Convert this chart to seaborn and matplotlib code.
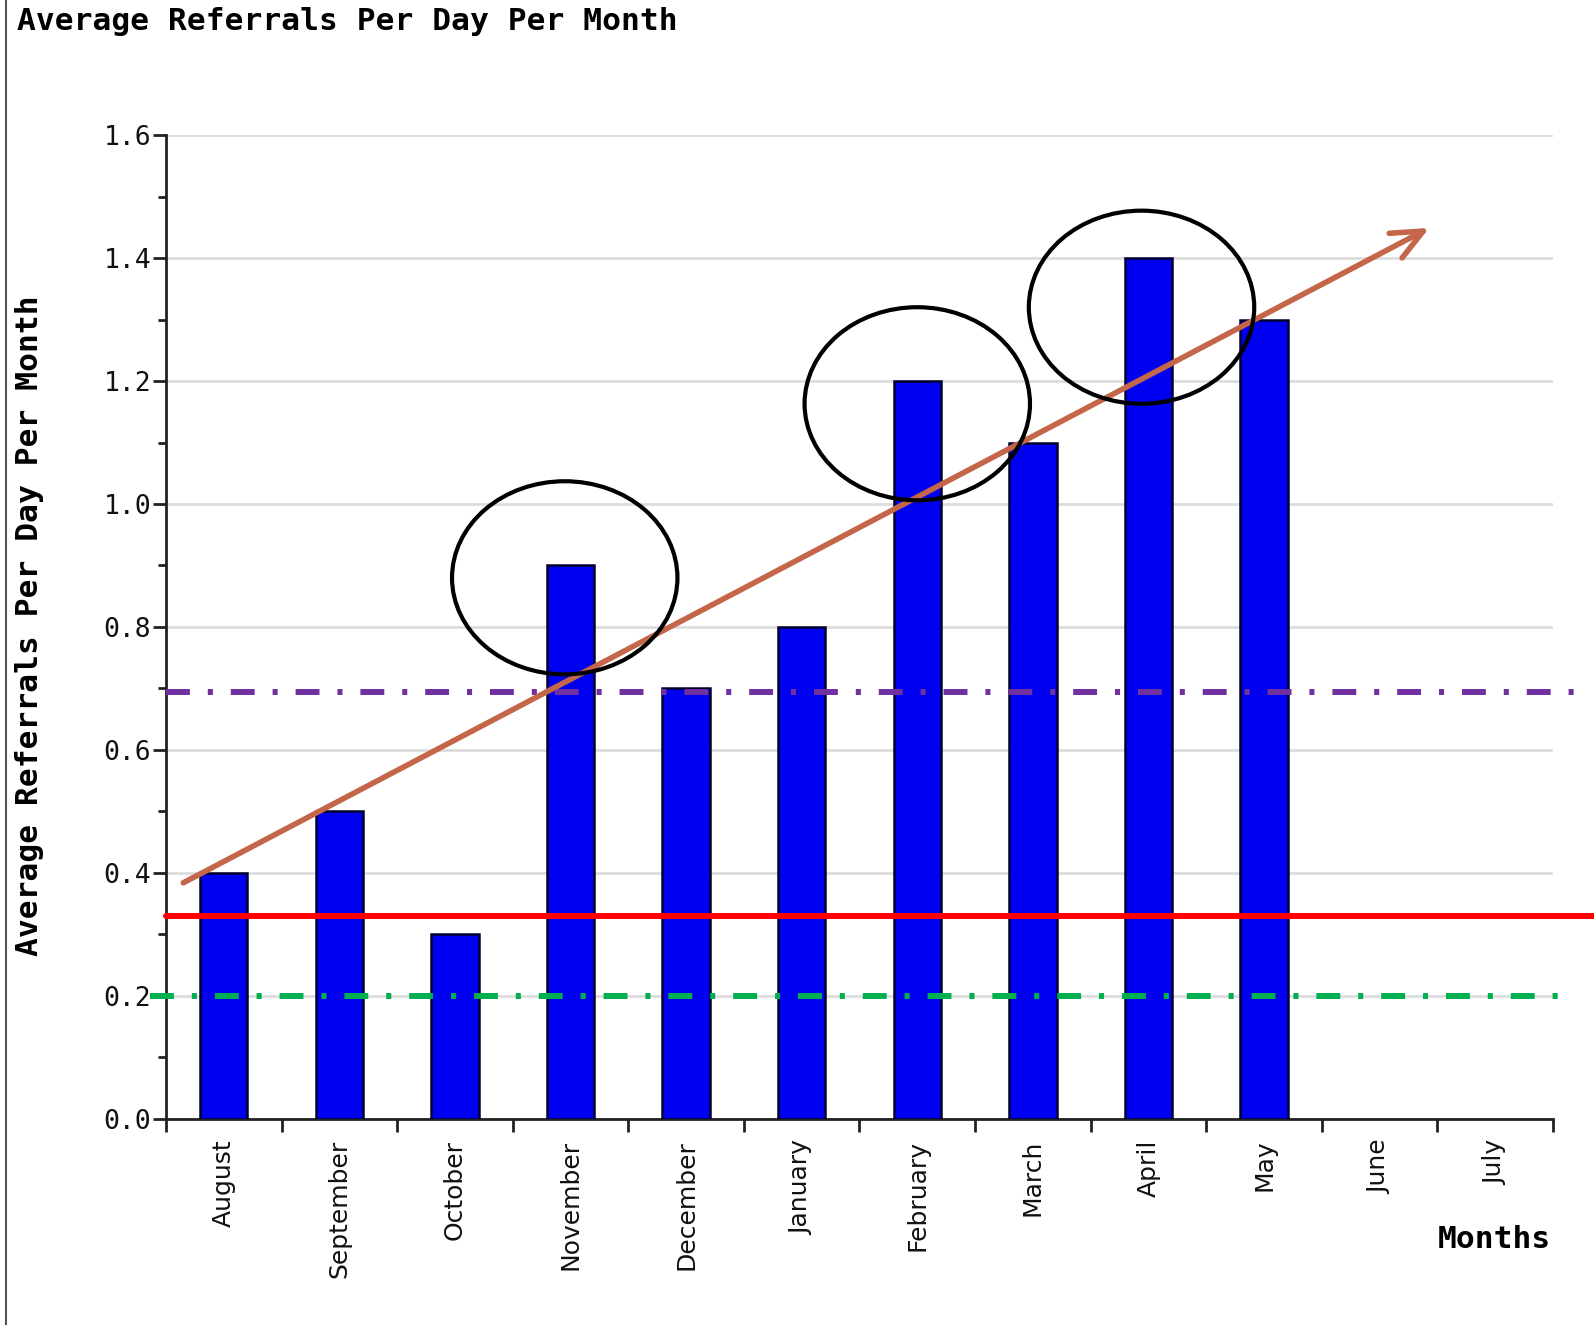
import numpy as np
import pandas as pd
import matplotlib
matplotlib.use('Agg')
import matplotlib.pyplot as plt
import seaborn as sns
from matplotlib.patches import Ellipse
from matplotlib.lines import Line2D

# Data
months = ['August', 'September', 'October', 'November', 'December', 'January',
          'February', 'March', 'April', 'May', 'June', 'July']
referrals = [0.4, 0.5, 0.3, 0.9, 0.7, 0.8, 1.2, 1.1, 1.4, 1.3, np.nan, np.nan]

# reference lines
red_level = 0.33
purple_level = 0.694
green_level = 0.2

# trend arrow (start, end) in data coords
trend_x = [-0.35, 10.43]
trend_y = [0.384, 1.449]

# highlighted months (circles): centre x, centre y
circle_x = [2.95, 6.0, 7.94]
circle_y = [0.88, 1.163, 1.32]

df = pd.DataFrame({'Month': months, 'Referrals': referrals})

sns.set_style('white')
plt.rcParams['font.family'] = ['DejaVu Sans Mono', 'DejaVu Sans']
plt.rcParams['text.color'] = 'black'

fig = plt.figure(figsize=(15.94, 13.25), dpi=100)
ax = fig.add_axes([0.1041, 0.1555, 0.8702, 0.7426])

sns.barplot(data=df, x='Month', y='Referrals', order=months, ax=ax,
            color='#0000F0', saturation=1, width=0.41,
            edgecolor='#000030', linewidth=1.8, zorder=3)

ax.set_xlim(-0.5, len(months) - 0.5)
ax.set_ylim(0, 1.6)

# grid + spines
ax.set_axisbelow(True)
ax.yaxis.grid(True, color='#DDDDDD', lw=2)
ax.xaxis.grid(False)
for s in ['top', 'right']:
    ax.spines[s].set_visible(False)
for s in ['left', 'bottom']:
    ax.spines[s].set_color('#222222')
    ax.spines[s].set_linewidth(2)

# y ticks
ax.set_yticks(np.arange(0, 1.61, 0.2))
ax.set_yticklabels([f'{v:.1f}' for v in np.arange(0, 1.61, 0.2)])
ax.set_yticks(np.arange(0.1, 1.6, 0.2), minor=True)
ax.tick_params(axis='y', which='major', length=9.5, width=2, color='#222222',
               labelsize=19, labelcolor='#111111', direction='out', left=True, pad=1)
ax.tick_params(axis='y', which='minor', length=6, width=2, color='#222222',
               direction='out', left=True)

# x ticks: labels at centres, tick marks at boundaries
ax.set_xticks(np.arange(len(months)))
ax.set_xticklabels(months, rotation=90, family='DejaVu Sans', va='top', ha='center')
ax.set_xticks(np.arange(-0.5, len(months)), minor=True)
ax.tick_params(axis='x', which='major', length=0, labelsize=18,
               labelcolor='#111111', pad=15)
ax.tick_params(axis='x', which='minor', length=9.5, width=2, color='#222222',
               direction='out', bottom=True)
ax.set_xlabel('')
ax.set_ylabel('')

# horizontal reference lines
dashdot = (0, (4.0, 3.0, 0.85, 3.0))
ax.axhline(red_level, xmin=0, xmax=1.03, color='#FF0000', lw=4.3,
           clip_on=False, zorder=5)
ax.axhline(purple_level, xmin=0, xmax=1.017, color='#7030A0', lw=4.3,
           ls=dashdot, clip_on=False, zorder=5)
ax.axhline(green_level, xmin=-0.0115, xmax=1.005, color='#00B050', lw=4.3,
           ls=dashdot, clip_on=False, zorder=5)

# trend arrow
ax.annotate('', xy=(trend_x[1], trend_y[1]), xytext=(trend_x[0], trend_y[0]),
            arrowprops=dict(arrowstyle='->,head_length=0.45,head_width=0.2',
                            color='#C46649', lw=4, mutation_scale=50,
                            shrinkA=0, shrinkB=0, capstyle='round',
                            joinstyle='round'),
            zorder=6, annotation_clip=False)

# circles
for cx, cy in zip(circle_x, circle_y):
    ax.add_patch(Ellipse((cx, cy), width=1.95, height=0.314, fill=False,
                         edgecolor='black', lw=3, zorder=7, clip_on=False))

# text
fig.text(17 / 1594, 1 - 7 / 1325, 'Average Referrals Per Day Per Month',
         fontsize=22.5, fontweight='bold', ha='left', va='top')
fig.text(30 / 1594, 1 - 626 / 1325, 'Average Referrals Per Day Per Month',
         fontsize=22.5, fontweight='bold', rotation=90, ha='center', va='center')
fig.text(1551 / 1594, 1 - 1240 / 1325, 'Months', fontsize=22.5,
         fontweight='bold', ha='right', va='center')

# left border of the picture
fig.add_artist(Line2D([6 / 1594, 6 / 1594], [0, 1], color='#555555', lw=1.5,
                      transform=fig.transFigure))

fig.savefig('out.png', dpi=100, facecolor='white')
